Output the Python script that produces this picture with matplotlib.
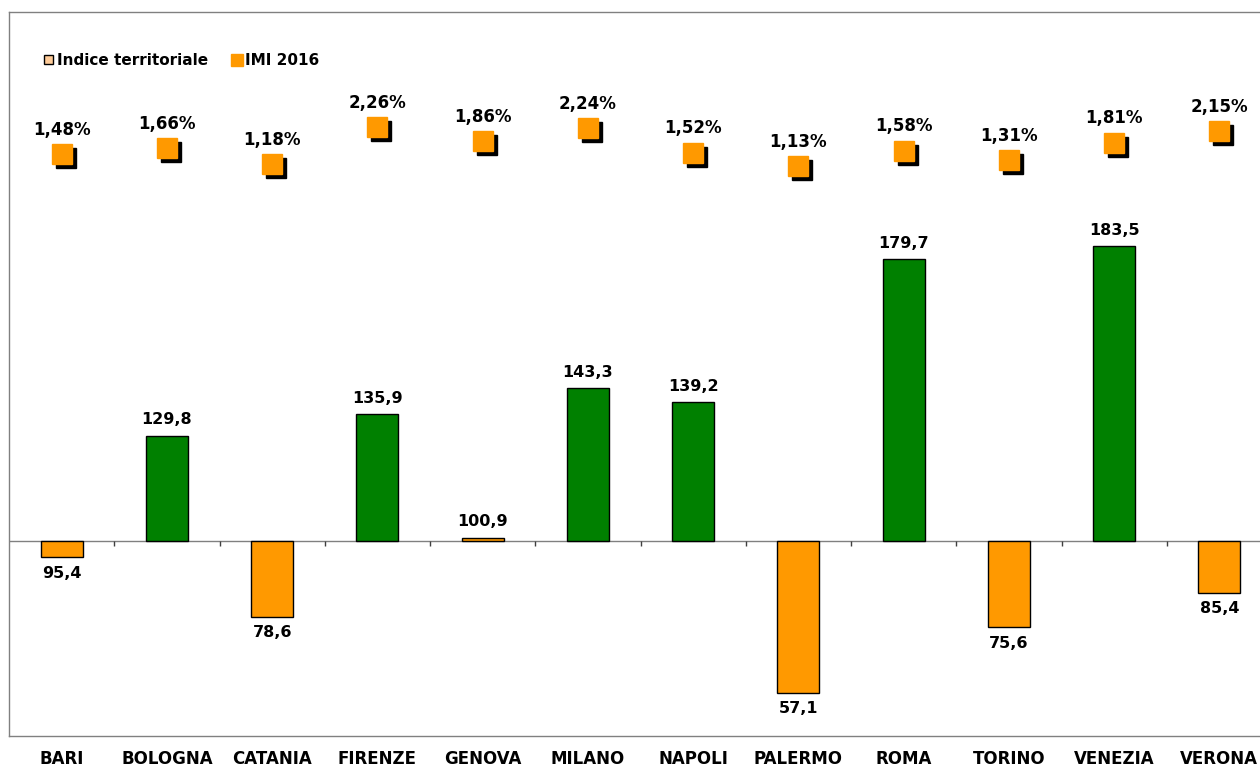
import matplotlib
matplotlib.use('Agg')
import matplotlib.pyplot as plt
import matplotlib.transforms as mtransforms
from matplotlib.patches import Patch
from matplotlib.lines import Line2D
import numpy as np

plt.rcParams['font.family'] = 'DejaVu Sans'

citta = ['BARI', 'BOLOGNA', 'CATANIA', 'FIRENZE', 'GENOVA', 'MILANO',
         'NAPOLI', 'PALERMO', 'ROMA', 'TORINO', 'VENEZIA', 'VERONA']
indice = [95.4, 129.8, 78.6, 135.9, 100.9, 143.3, 139.2, 57.1, 179.7, 75.6, 183.5, 85.4]
imi = [1.48, 1.66, 1.18, 2.26, 1.86, 2.24, 1.52, 1.13, 1.58, 1.31, 1.81, 2.15]

verde = '#008000'
arancio = '#FF9900'
pesca = '#FFCC99'
base = 100

fig = plt.figure(figsize=(12.6, 7.66), dpi=100)
ax = fig.add_axes([9/1260, 30/766, 1263/1260, 724/766])
x = np.arange(len(citta))

colori = [verde if v > 110 else arancio for v in indice]
ax.bar(x, np.array(indice) - base, bottom=base, width=0.4,
       color=colori, edgecolor='black', linewidth=1, zorder=3)

for xi, v in zip(x, indice):
    testo = f'{v:.1f}'.replace('.', ',')
    if v >= base:
        ax.annotate(testo, (xi, v), xytext=(0, 6), textcoords='offset points',
                    ha='center', va='bottom', fontsize=11.5, fontweight='bold')
    else:
        ax.annotate(testo, (xi, v), xytext=(0, -6), textcoords='offset points',
                    ha='center', va='top', fontsize=11.5, fontweight='bold')

ax.axhline(base, color='#808080', lw=1, zorder=2)
bordi = np.arange(len(citta) - 1) + 0.5
ax.vlines(bordi, base - 1.5, base, color='#404040', lw=1, zorder=2)

ax.set_xlim(-0.5, len(citta) - 0.5)
ax.set_ylim(44.8, 249.7)
ax.set_yticks([])
ax.set_xticks(x)
ax.set_xticklabels(citta, fontsize=12, fontweight='bold')
ax.tick_params(axis='x', length=0, pad=10)
for s in ax.spines.values():
    s.set_color('#808080')
    s.set_linewidth(1)

ax2 = ax.twinx()
ax2.set_ylim(-15.4, 5.6)
ax2.set_yticks([])
for s in ax2.spines.values():
    s.set_visible(False)
ombra = ax2.transData + mtransforms.ScaledTranslation(4/100, -4/100, fig.dpi_scale_trans)
ax2.plot(x, imi, 's', color='black', markersize=14.5, transform=ombra, zorder=4)
ax2.plot(x, imi, 's', color=arancio, markersize=14.5, zorder=5)
for xi, p in zip(x, imi):
    ax2.annotate(f'{p:.2f}%'.replace('.', ','), (xi, p), xytext=(0, 11),
                 textcoords='offset points', ha='center', va='bottom',
                 fontsize=12, fontweight='bold')

maniglie = [Patch(facecolor=pesca, edgecolor='black', linewidth=1),
            Line2D([], [], marker='s', color=arancio, linestyle='none', markersize=8)]
ax.legend(maniglie, ['Indice territoriale', 'IMI 2016'], loc='upper left',
          bbox_to_anchor=(21/1263, 1 - 27/724), ncol=2, frameon=False,
          prop={'weight': 'bold', 'size': 11}, handlelength=0.6, handleheight=0.6,
          handletextpad=0.25, columnspacing=1.6)

fig.savefig('out.png', dpi=100)
